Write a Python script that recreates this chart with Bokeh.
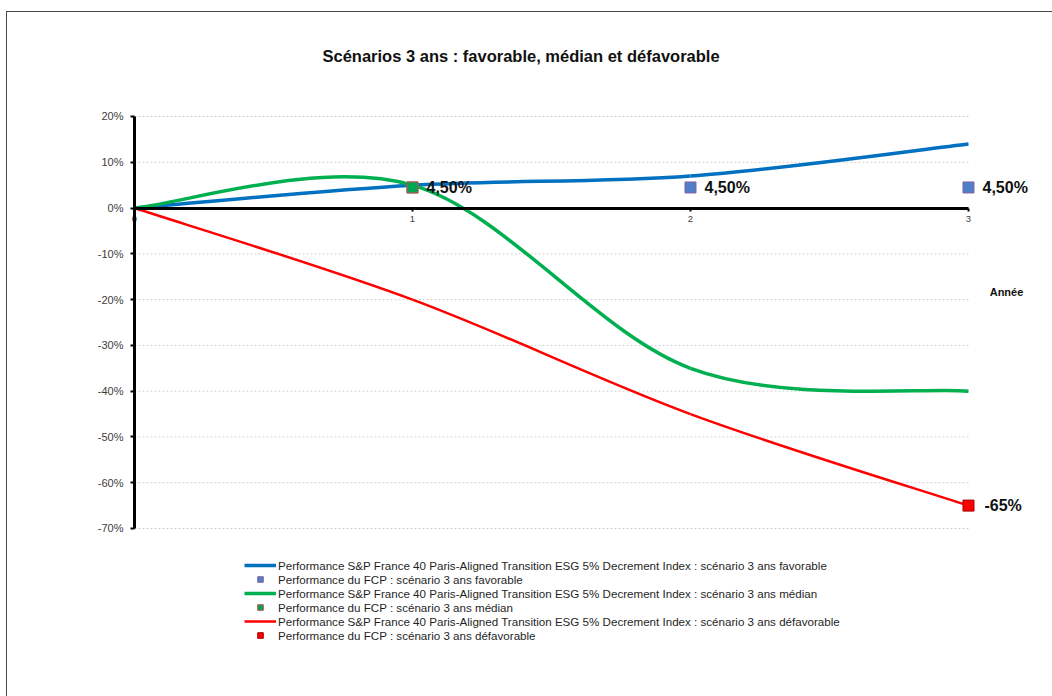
from bokeh.plotting import figure
from bokeh.models import (ColumnDataSource, FixedTicker, Legend, LegendItem,
                          Label, Range1d)
from bokeh.core.properties import value
from bokeh.embed import file_html
from bokeh.resources import INLINE

# ---------------- data ----------------
years = [0, 1, 2, 3]
idx_favorable = [0.0, 0.05, 0.07, 0.14]
idx_median = [0.0, 0.05, -0.35, -0.40]
idx_defavorable = [0.0, -0.20, -0.45, -0.65]

fcp_fav_years = [1, 2, 3]
fcp_fav_values = [0.045, 0.045, 0.045]
fcp_fav_labels = ["4,50%", "4,50%", "4,50%"]
fcp_med_years = [1]
fcp_med_values = [0.045]
fcp_def_years = [3]
fcp_def_values = [-0.65]
fcp_def_labels = ["-65%"]

y_ticks = [-0.7, -0.6, -0.5, -0.4, -0.3, -0.2, -0.1, 0.0, 0.1, 0.2]
y_tick_labels = ["-70%", "-60%", "-50%", "-40%", "-30%", "-20%", "-10%", "0%", "10%", "20%"]
x_ticks = [0, 1, 2, 3]
x_tick_labels = ["0", "1", "2", "3"]

title_text = "Scénarios 3 ans : favorable, médian et défavorable"
x_title = "Année"
leg_idx_fav = "Performance S&P France 40 Paris-Aligned Transition ESG 5% Decrement Index : scénario 3 ans favorable"
leg_fcp_fav = "Performance du FCP : scénario 3 ans favorable"
leg_idx_med = "Performance S&P France 40 Paris-Aligned Transition ESG 5% Decrement Index : scénario 3 ans médian"
leg_fcp_med = "Performance du FCP : scénario 3 ans médian"
leg_idx_def = "Performance S&P France 40 Paris-Aligned Transition ESG 5% Decrement Index : scénario 3 ans défavorable"
leg_fcp_def = "Performance du FCP : scénario 3 ans défavorable"

FONT = "Liberation Sans"


def smooth_segments(xs, ys):
    """Bezier control points (Catmull-Rom style smoothing, like a spreadsheet's smoothed line)."""
    n = len(xs)
    d = dict(x0=[], y0=[], x1=[], y1=[], cx0=[], cy0=[], cx1=[], cy1=[])
    for i in range(n - 1):
        a = max(i - 1, 0)
        b = min(i + 2, n - 1)
        d["x0"].append(xs[i]); d["y0"].append(ys[i])
        d["x1"].append(xs[i + 1]); d["y1"].append(ys[i + 1])
        d["cx0"].append(xs[i] + (xs[i + 1] - xs[a]) / 6)
        d["cy0"].append(ys[i] + (ys[i + 1] - ys[a]) / 6)
        d["cx1"].append(xs[i + 1] - (xs[b] - xs[i]) / 6)
        d["cy1"].append(ys[i + 1] - (ys[b] - ys[i]) / 6)
    return ColumnDataSource(d)


p = figure(width=1046, height=685,
           x_range=Range1d(-0.26259, 3.30576), y_range=Range1d(-0.99054, 0.29393),
           output_backend="svg", toolbar_location=None,
           min_border_left=54, min_border_right=0, min_border_top=61, min_border_bottom=36,
           title=title_text, margin=(11, 0, 0, 6),
           styles={"border-top": "1px solid #4a4a4a", "border-left": "1px solid #4a4a4a"})
p.outline_line_color = None
p.background_fill_color = "white"
p.border_fill_color = "white"

p.title.align = "left"
p.title.offset = 261
p.title.standoff = 18
p.title.text_font = FONT
p.title.text_font_size = "16.5px"
p.title.text_font_style = "bold"
p.title.text_color = "#111111"

p.xgrid.visible = False
p.ygrid.visible = False

# grid lines from 0 to 3 only
p.segment(x0=years[0], x1=years[-1], y0=y_ticks, y1=y_ticks,
          line_color="#d0d0d0", line_width=1, line_dash="2 2")

# axes
ya = p.yaxis[0]
ya.fixed_location = 0
ya.bounds = (y_ticks[0], y_ticks[-1])
ya.ticker = FixedTicker(ticks=y_ticks)
ya.major_label_overrides = {t: l for t, l in zip(y_ticks, y_tick_labels)}
ya.axis_line_width = 3
ya.axis_line_color = "black"
ya.major_tick_in = 0
ya.major_tick_out = 4
ya.major_tick_line_width = 2
ya.minor_tick_line_color = None
ya.major_label_standoff = 7
ya.major_label_text_font = FONT
ya.major_label_text_font_size = "11px"
ya.major_label_text_color = "#404040"

xa = p.xaxis[0]
xa.fixed_location = 0
xa.bounds = (x_ticks[0], x_ticks[-1])
xa.ticker = FixedTicker(ticks=x_ticks)
xa.major_label_overrides = {t: l for t, l in zip(x_ticks, x_tick_labels)}
xa.axis_line_width = 3
xa.axis_line_color = "black"
xa.major_tick_in = 0
xa.major_tick_out = 3
xa.major_tick_line_width = 2
xa.minor_tick_line_color = None
xa.major_label_standoff = 5
xa.major_label_text_font = FONT
xa.major_label_text_font_size = "9.5px"
xa.major_label_text_color = "#404040"

# smoothed index lines
r_fav = p.bezier(x0="x0", y0="y0", x1="x1", y1="y1", cx0="cx0", cy0="cy0", cx1="cx1", cy1="cy1",
                 source=smooth_segments(years, idx_favorable), line_color="#0070C0", line_width=3.5)
r_med = p.bezier(x0="x0", y0="y0", x1="x1", y1="y1", cx0="cx0", cy0="cy0", cx1="cx1", cy1="cy1",
                 source=smooth_segments(years, idx_median), line_color="#00B050", line_width=3.5)
r_def = p.bezier(x0="x0", y0="y0", x1="x1", y1="y1", cx0="cx0", cy0="cy0", cx1="cx1", cy1="cy1",
                 source=smooth_segments(years, idx_defavorable), line_color="#FF0000", line_width=2.5)

# FCP markers
m_fav = p.scatter(fcp_fav_years, fcp_fav_values, marker="square", size=11,
                  fill_color="#4F7FC6", line_color="#8064A2", line_width=1)
m_med = p.scatter(fcp_med_years, fcp_med_values, marker="square", size=11,
                  fill_color="#00A650", line_color="#C0504D", line_width=1)
m_def = p.scatter(fcp_def_years, fcp_def_values, marker="square", size=11,
                  fill_color="#FF0000", line_color="#A00000", line_width=1)

# data labels
p.text(x=fcp_fav_years, y=fcp_fav_values, text=fcp_fav_labels, x_offset=14,
       text_align="left", text_baseline="middle", text_font=value(FONT),
       text_font_style="bold", text_font_size="16px", text_color="#111111")
p.text(x=fcp_def_years, y=fcp_def_values, text=fcp_def_labels, x_offset=16,
       text_align="left", text_baseline="middle", text_font=value(FONT),
       text_font_style="bold", text_font_size="16px", text_color="#111111")

p.add_layout(Label(x=3.1367, y=-0.1835, text=x_title, text_align="center",
                   text_baseline="middle", text_font=FONT, text_font_size="11px",
                   text_font_style="bold", text_color="#111111"))

legend = Legend(items=[
    LegendItem(label=leg_idx_fav, renderers=[r_fav]),
    LegendItem(label=leg_fcp_fav, renderers=[m_fav]),
    LegendItem(label=leg_idx_med, renderers=[r_med]),
    LegendItem(label=leg_fcp_med, renderers=[m_med]),
    LegendItem(label=leg_idx_def, renderers=[r_def]),
    LegendItem(label=leg_fcp_def, renderers=[m_def]),
], location=(183, 19), orientation="vertical", glyph_width=32, glyph_height=14,
    label_height=14, label_standoff=2, spacing=0, padding=0, margin=0,
    border_line_color=None, background_fill_alpha=0,
    label_text_font=FONT, label_text_font_size="11.6px", label_text_color="#1f1f1f")
p.add_layout(legend)

open("out.html", "w").write(file_html(p, INLINE))
